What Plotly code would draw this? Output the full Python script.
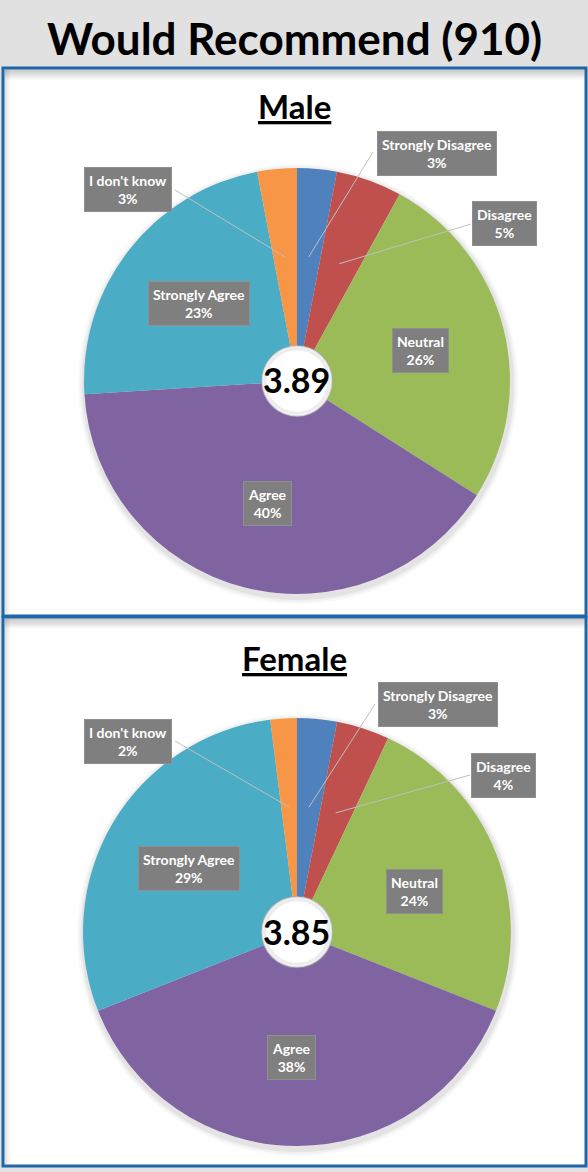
import math
import plotly.graph_objects as go

W, H = 588, 1172

# ---------------- data ----------------
categories = ["Strongly Disagree", "Disagree", "Neutral", "Agree", "Strongly Agree", "I don't know"]
male_values = [3, 5, 26, 40, 23, 3]
female_values = [3, 4, 24, 38, 29, 2]
male_score = "3.89"
female_score = "3.85"
title_text = "Would Recommend (910)"
panel_names = ["Male", "Female"]
colors = ["#4F81BD", "#C0504D", "#9BBB59", "#8064A2", "#4BACC6", "#F79646"]

# ---------------- layout helpers (pixels) ----------------
def px(x):
    return x / W

def py(y):
    return 1 - y / H

panels = [
    dict(top=68, bottom=616, cx=297, cy=381, r=213, values=male_values, score=male_score,
         name=panel_names[0], name_y=106,
         labels={"Strongly Disagree": (437, 153), "Disagree": (504, 224), "Neutral": (420, 351),
                 "Agree": (267, 503), "Strongly Agree": (199, 304), "I don't know": (128, 190)},
         leaders={"Strongly Disagree": (373, 152), "Disagree": (471, 224), "I don't know": (175, 190)}),
    dict(top=617, bottom=1166, cx=297, cy=932, r=214, values=female_values, score=female_score,
         name=panel_names[1], name_y=658,
         labels={"Strongly Disagree": (438, 704), "Disagree": (503, 775), "Neutral": (414, 891),
                 "Agree": (291, 1057), "Strongly Agree": (189, 868), "I don't know": (128, 741)},
         leaders={"Strongly Disagree": (375, 704), "Disagree": (470, 775), "I don't know": (175, 741)}),
]

fig = go.Figure()
shapes = []
annotations = []

# title bar
annotations.append(dict(x=px(295), y=py(38), xref="paper", yref="paper", showarrow=False,
                        text="<b>" + title_text + "</b>",
                        font=dict(family="Lato", size=44, color="#000000"),
                        xanchor="center", yanchor="middle"))

for p in panels:
    # white panel with blue border
    shapes.append(dict(type="rect", xref="paper", yref="paper", layer="below",
                       x0=px(3), x1=px(586), y0=py(p["bottom"]), y1=py(p["top"]),
                       fillcolor="#ffffff", line=dict(color="#1F66A8", width=3)))
    # inner shadow along the top and left edges
    for i in range(10):
        a = 0.22 * (1 - i / 10)
        shapes.append(dict(type="line", xref="paper", yref="paper", layer="below",
                           x0=px(5), x1=px(584.5), y0=py(p["top"] + 2 + i), y1=py(p["top"] + 2 + i),
                           line=dict(color="rgba(0,0,0,%.3f)" % a, width=1)))
    for i in range(6):
        a = 0.12 * (1 - i / 6)
        shapes.append(dict(type="line", xref="paper", yref="paper", layer="below",
                           x0=px(5 + i), x1=px(5 + i), y0=py(p["bottom"] - 2), y1=py(p["top"] + 2),
                           line=dict(color="rgba(0,0,0,%.3f)" % a, width=1)))
    # soft shadow of the pie
    cx, cy, r = p["cx"], p["cy"], p["r"]
    for k, a in [(7, 0.025), (5, 0.035), (3, 0.05)]:
        shapes.append(dict(type="circle", xref="paper", yref="paper", layer="below",
                           x0=px(cx - r - k + 1), x1=px(cx + r + k + 1),
                           y0=py(cy + r + k + 3), y1=py(cy - r - k + 3),
                           fillcolor="rgba(0,0,0,%.3f)" % a, line=dict(width=0)))

    fig.add_trace(go.Pie(
        labels=categories, values=p["values"], sort=False, direction="clockwise", rotation=0,
        marker=dict(colors=colors, line=dict(width=0)), textinfo="none", hoverinfo="label+percent",
        hole=0.165, showlegend=False,
        domain=dict(x=[px(cx - r), px(cx + r)], y=[py(cy + r), py(cy - r)]),
    ))

    # centre white disc with soft edge
    hr = r * 0.165
    shapes.append(dict(type="circle", xref="paper", yref="paper", layer="above",
                       x0=px(cx - hr), x1=px(cx + hr), y0=py(cy + hr), y1=py(cy - hr),
                       fillcolor="#ffffff", line=dict(color="rgba(170,170,170,0.45)", width=2)))
    shapes.append(dict(type="circle", xref="paper", yref="paper", layer="above",
                       x0=px(cx - hr + 3), x1=px(cx + hr - 3), y0=py(cy + hr - 3), y1=py(cy - hr + 3),
                       fillcolor="rgba(0,0,0,0)", line=dict(color="rgba(200,200,200,0.35)", width=3)))
    annotations.append(dict(x=px(cx), y=py(cy - 1), xref="paper", yref="paper", showarrow=False,
                            text="<b>" + p["score"] + "</b>",
                            font=dict(family="Lato", size=34, color="#000000"),
                            xanchor="center", yanchor="middle"))

    # panel name
    annotations.append(dict(x=px(294), y=py(p["name_y"]), xref="paper", yref="paper", showarrow=False,
                            text="<b><u>" + p["name"] + "</u></b>",
                            font=dict(family="Lato", size=33, color="#000000"),
                            xanchor="center", yanchor="middle"))

    # leader lines computed from the slice mid-angles
    total = sum(p["values"])
    cum = 0
    mids = {}
    for c, v in zip(categories, p["values"]):
        mids[c] = (cum + v / 2) / total * 2 * math.pi
        cum += v
    for c, (lx, ly) in p["leaders"].items():
        ang = mids[c]
        ax = cx + 0.585 * r * math.sin(ang)
        ay = cy - 0.585 * r * math.cos(ang)
        shapes.append(dict(type="line", xref="paper", yref="paper", layer="above",
                           x0=px(lx), y0=py(ly), x1=px(ax), y1=py(ay),
                           line=dict(color="#BFBFBF", width=1)))

    # data labels
    for c, v in zip(categories, p["values"]):
        lx, ly = p["labels"][c]
        annotations.append(dict(x=px(lx), y=py(ly), xref="paper", yref="paper", showarrow=False,
                                text="<b>%s</b><br><b>%d%%</b>" % (c, v),
                                font=dict(family="Lato", size=14, color="#FFFFFF"),
                                bgcolor="#7F7F7F", bordercolor="#8F8F8F", borderwidth=1, borderpad=4,
                                xanchor="center", yanchor="middle", align="center"))

fig.update_layout(
    width=W, height=H, margin=dict(l=0, r=0, t=0, b=0),
    paper_bgcolor="#E1E1E1", plot_bgcolor="#E1E1E1",
    shapes=shapes, annotations=annotations,
)

fig.write_html("out.html", config={"displayModeBar": False},
               post_script="document.body.style.margin='0';document.body.style.overflow='hidden';")
